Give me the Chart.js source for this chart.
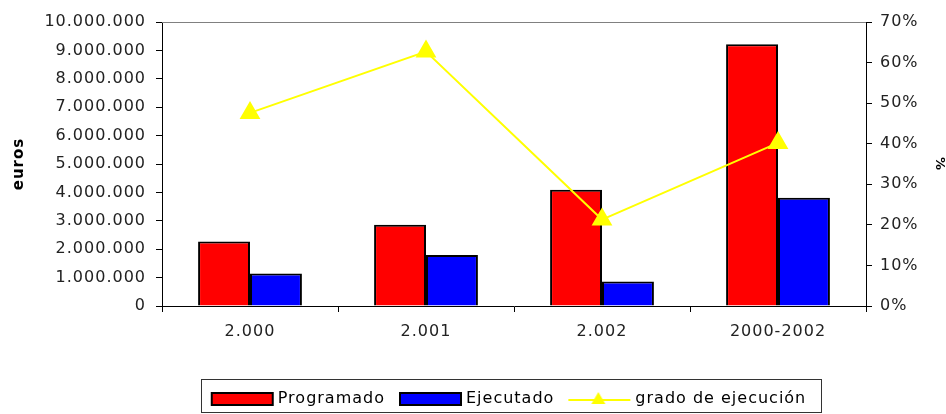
<!DOCTYPE html>
<html>
<head>
<meta charset="utf-8">
<script src="https://cdn.jsdelivr.net/npm/chart.js@4.4.1/dist/chart.umd.min.js"></script>
<style>
  html, body { margin: 0; padding: 0; background: #fff; }
  canvas { display: block; }
</style>
</head>
<body>
<canvas id="chart" width="946" height="414"></canvas>
<script>
// --- datos ---
const periodos = ['2.000', '2.001', '2.002', '2000-2002'];
const programado = [2270000, 2860000, 4090000, 9220000];
const ejecutado = [1140000, 1800000, 860000, 3810000];
const gradoEjecucion = [47.6, 62.7, 21.3, 40.2];
const ticksEuros = [0, 10000000, 1000000];
const ticksPct = [0, 70, 10];

const FONT = 'DejaVu Sans';

function puntos(v) {
  return String(v).replace(/\B(?=(\d{3})+(?!\d))/g, '.');
}

// iconos de la leyenda (el dibujo va a la derecha del lienzo)
function iconoBarra(color) {
  const c = document.createElement('canvas');
  c.width = 80; c.height = 16;
  const g = c.getContext('2d');
  g.fillStyle = color;
  g.fillRect(16, 2, 61, 12);
  g.lineWidth = 2;
  g.strokeStyle = '#000';
  g.strokeRect(16, 2, 61, 12);
  return c;
}

function iconoLinea(color) {
  const c = document.createElement('canvas');
  c.width = 80; c.height = 18;
  const g = c.getContext('2d');
  g.strokeStyle = color;
  g.lineWidth = 2;
  g.beginPath();
  g.moveTo(15, 10); g.lineTo(77, 10);
  g.stroke();
  g.fillStyle = color;
  g.beginPath();
  g.moveTo(45, 2); g.lineTo(52, 14); g.lineTo(38, 14);
  g.closePath();
  g.fill();
  return c;
}

const iconos = [iconoBarra('#FF0000'), iconoBarra('#0000FF'), iconoLinea('#FFFF00')];

// espaciado de letras, posición de la leyenda y bordes
const DX = -10, DY = 3;
const extras = {
  id: 'extras',
  beforeLayout(chart) { chart.ctx.letterSpacing = '1px'; },
  afterLayout(chart) {
    const l = chart.legend;
    l.left += DX; l.right += DX;
    l.top += DY; l.bottom += DY;
    (l.legendHitBoxes || []).forEach(h => { h.left += DX; h.top += DY; });
  },
  beforeDraw(chart) { chart.ctx.letterSpacing = '1px'; },
  afterDraw(chart) {
    const ctx = chart.ctx;
    const a = chart.chartArea;
    ctx.save();
    ctx.strokeStyle = '#808080';
    ctx.lineWidth = 1;
    ctx.beginPath();
    ctx.moveTo(a.left, a.top + 0.5);
    ctx.lineTo(a.right, a.top + 0.5);
    ctx.stroke();

    const hb = chart.legend.legendHitBoxes;
    if (hb && hb.length) {
      const first = hb[0], last = hb[hb.length - 1];
      const cy = first.top + 8;
      const x0 = Math.round(first.left - 1) + 0.5;
      const x1 = Math.round(last.left + last.width + 15) + 0.5;
      const y0 = Math.round(cy - 23) + 0.5;
      const y1 = Math.min(Math.round(cy + 17), 412) + 0.5;
      ctx.strokeStyle = '#333';
      ctx.strokeRect(x0, y0, x1 - x0, y1 - y0);
    }
    ctx.restore();
  }
};

new Chart(document.getElementById('chart'), {
  type: 'bar',
  data: {
    labels: periodos,
    datasets: [
      {
        label: 'Programado',
        data: programado,
        backgroundColor: '#FF0000',
        borderColor: '#000',
        borderWidth: 2,
        yAxisID: 'y',
        categoryPercentage: 0.59,
        barPercentage: 1.0
      },
      {
        label: 'Ejecutado',
        data: ejecutado,
        backgroundColor: '#0000FF',
        borderColor: '#000',
        borderWidth: 2,
        yAxisID: 'y',
        categoryPercentage: 0.59,
        barPercentage: 1.0
      },
      {
        type: 'line',
        label: 'grado de ejecución',
        data: gradoEjecucion,
        borderColor: '#FFFF00',
        backgroundColor: '#FFFF00',
        borderWidth: 2,
        tension: 0,
        pointStyle: 'triangle',
        pointRadius: 10,
        pointBackgroundColor: '#FFFF00',
        pointBorderColor: '#FFFF00',
        yAxisID: 'y1',
        order: -1
      }
    ]
  },
  options: {
    responsive: false,
    animation: false,
    devicePixelRatio: 1,
    layout: { padding: { top: 22, left: 0, right: 0, bottom: 0 } },
    plugins: {
      tooltip: { enabled: false },
      legend: {
        position: 'bottom',
        fullSize: false,
        labels: {
          usePointStyle: true,
          pointStyleWidth: 68,
          boxHeight: 16,
          padding: 5,
          color: '#000',
          font: { family: FONT, size: 16 },
          sort: (a, b) => a.datasetIndex - b.datasetIndex,
          generateLabels(chart) {
            const items = Chart.defaults.plugins.legend.labels.generateLabels(chart);
            items.forEach(it => { it.pointStyle = iconos[it.datasetIndex]; });
            return items;
          }
        }
      }
    },
    scales: {
      x: {
        offset: true,
        grid: { display: true, offset: true, drawOnChartArea: false, color: '#000', tickLength: 6 },
        border: { color: '#000', width: 1 },
        ticks: { color: '#222', font: { family: FONT, size: 16 }, padding: 10 },
        afterFit(s) { s.height = 77; }
      },
      y: {
        position: 'left',
        min: ticksEuros[0],
        max: ticksEuros[1],
        grid: { display: true, drawOnChartArea: false, color: '#000', tickLength: 6 },
        border: { color: '#000', width: 1 },
        ticks: {
          stepSize: ticksEuros[2],
          autoSkip: false,
          color: '#222',
          padding: 10,
          font: { family: FONT, size: 16 },
          callback: v => puntos(v)
        },
        title: {
          display: true,
          text: 'euros',
          color: '#000',
          font: { family: FONT, size: 15, weight: 'bold', lineHeight: 1 },
          padding: { top: 12, bottom: 0 }
        },
        afterFit(s) { s.width = 162; }
      },
      y1: {
        position: 'right',
        min: ticksPct[0],
        max: ticksPct[1],
        grid: { display: true, drawOnChartArea: false, color: '#000', tickLength: 6 },
        border: { color: '#000', width: 1 },
        ticks: {
          stepSize: ticksPct[2],
          autoSkip: false,
          color: '#222',
          padding: 8,
          font: { family: FONT, size: 16 },
          callback: v => v + '%'
        },
        title: {
          display: true,
          text: '%',
          color: '#000',
          font: { family: FONT, size: 13, weight: 'bold', lineHeight: 1 },
          padding: { top: 0, bottom: 0 }
        },
        afterFit(s) { s.width = 80; }
      }
    }
  },
  plugins: [extras]
});
</script>
</body>
</html>
